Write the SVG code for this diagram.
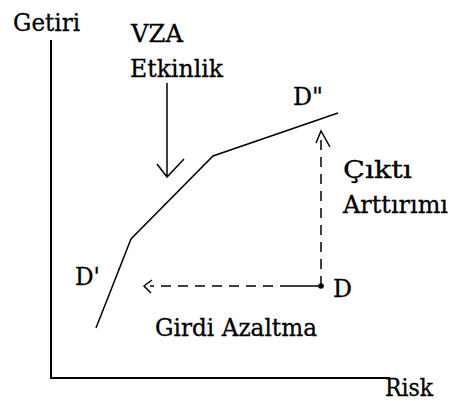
<svg xmlns="http://www.w3.org/2000/svg" width="451" height="401" viewBox="0 0 451 401">
<style>
text{font-family:"DejaVu Serif","Liberation Serif",serif;font-size:24px;fill:#000;stroke:#000;stroke-width:0.3}
.ax{stroke:#000;stroke-width:2;fill:none}
.ln{stroke:#000;stroke-width:1.5;fill:none}
.ds{stroke:#000;stroke-width:1.5;fill:none;stroke-dasharray:10 7}
</style>
<rect width="451" height="401" fill="#fff"/>
<g id="axes">
<path class="ax" d="M51 40 V378 H390"/>
</g>
<g id="frontier">
<polyline class="ln" points="96,328 131,239 213,156 338,113"/>
</g>
<g id="connectors">
<path class="ln" d="M167 83 V177 M157 164 L167 177 L184 159"/>
<path class="ds" d="M321 286 V137"/>
<path class="ln" d="M316 143 L321 131 L330 147"/>
<path class="ds" d="M290 286 H150"/>
<path class="ln" d="M290 286 H321"/>
<path class="ln" d="M152 280 L144 286 L151 293"/>
</g>
<g id="point-D">
<circle cx="321" cy="286" r="2.8" fill="#000"/>
</g>
<g id="labels">
<text x="13" y="31" textLength="67" lengthAdjust="spacingAndGlyphs">Getiri</text>
<text x="131" y="42" textLength="52" lengthAdjust="spacingAndGlyphs">VZA</text>
<text x="130" y="77" textLength="93" lengthAdjust="spacingAndGlyphs">Etkinlik</text>
<text x="293" y="105" textLength="30" lengthAdjust="spacingAndGlyphs">D"</text>
<text x="343" y="178" textLength="69" lengthAdjust="spacingAndGlyphs">Çıktı</text>
<text x="343" y="213" textLength="105" lengthAdjust="spacingAndGlyphs">Arttırımı</text>
<text x="75" y="285" textLength="25" lengthAdjust="spacingAndGlyphs">D'</text>
<text x="333" y="297" textLength="19" lengthAdjust="spacingAndGlyphs">D</text>
<text x="155" y="336" textLength="162" lengthAdjust="spacingAndGlyphs">Girdi Azaltma</text>
<text x="385" y="396" textLength="48" lengthAdjust="spacingAndGlyphs">Risk</text>
</g>
</svg>
